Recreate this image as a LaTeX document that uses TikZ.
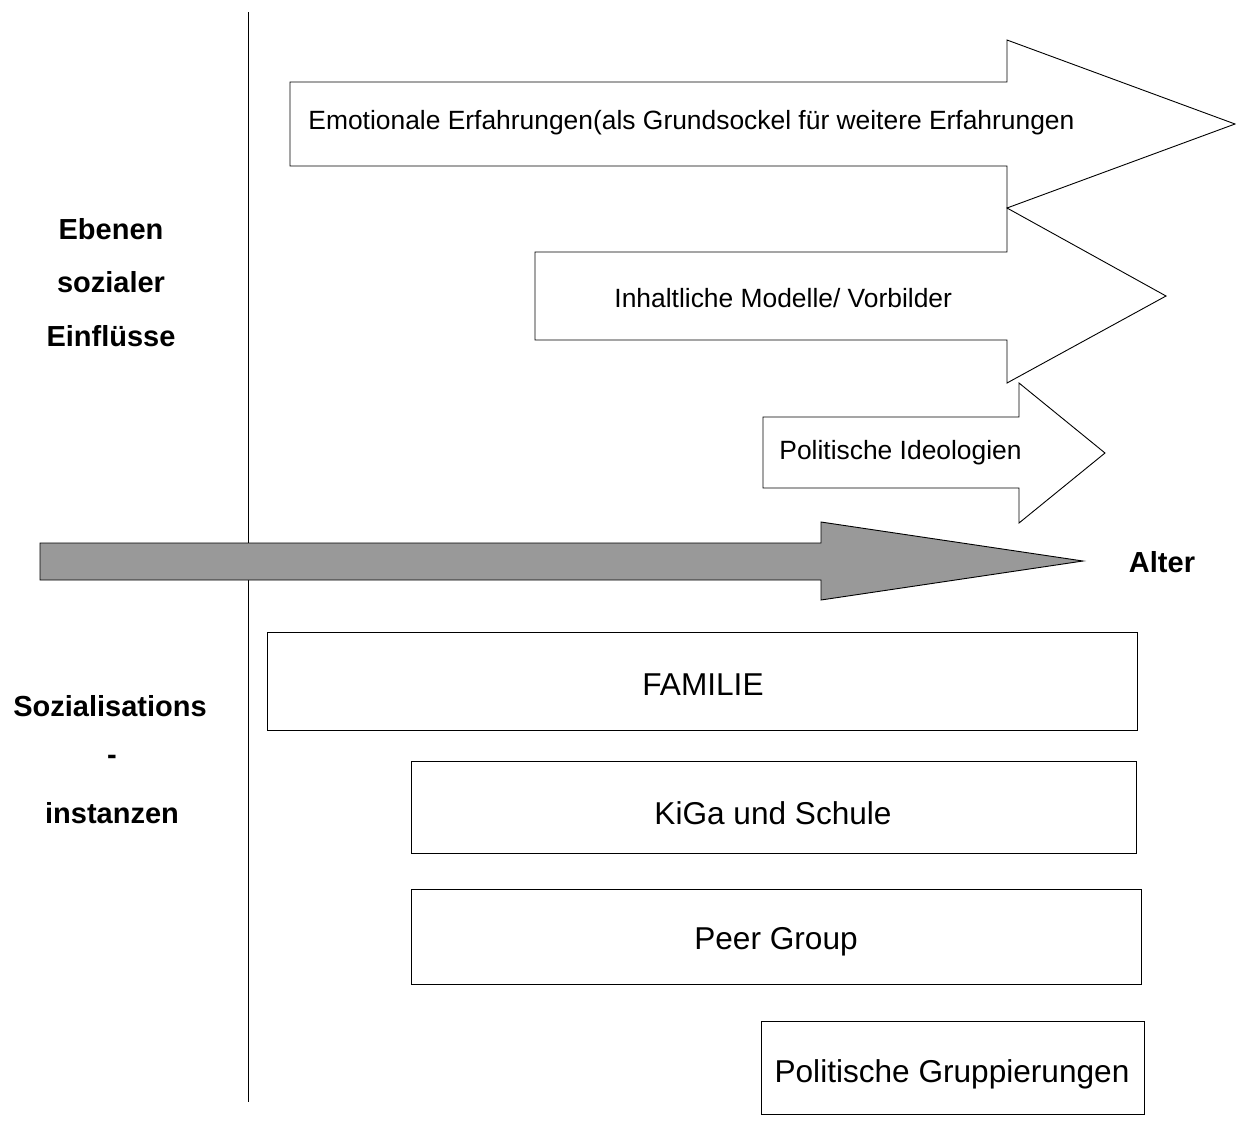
\documentclass[tikz,border=0pt]{standalone}
\usepackage{fontspec}
\setmainfont{Liberation Sans}
\begin{document}
\begin{tikzpicture}[x=1pt,y=-1pt,line width=0.9pt,
  arrowshape/.style={draw=black,fill=white,line join=miter},
  agearrow/.style={draw=black,fill=black!40,line join=miter},
  arrowtext/.style={inner sep=0pt,anchor=west,font=\fontsize{26.4}{30}\selectfont},
  boxnode/.style={draw=black,fill=white,inner sep=0pt},
  boxtext/.style={inner sep=0pt,font=\fontsize{31.6}{36}\selectfont},
  sidelabel/.style={inner sep=0pt,font=\bfseries\fontsize{29}{34}\selectfont}]
\useasboundingbox (0,0) rectangle (1236,1130);
% vertical axis
\coordinate (vtop) at (248,12);
\coordinate (vbot) at (248,1102);
\draw[line width=0.8pt] (vtop) -- (vbot);
% level arrows
\draw[arrowshape] (290,82) -- (1007,82) -- (1007,40) -- (1235,124) -- (1007,208) -- (1007,166) -- (290,166) -- cycle;
\draw[arrowshape] (535,252) -- (1007,252) -- (1007,208) -- (1166,296) -- (1007,383) -- (1007,340) -- (535,340) -- cycle;
\draw[arrowshape] (763,417) -- (1019,417) -- (1019,383) -- (1105,453) -- (1019,523) -- (1019,488) -- (763,488) -- cycle;
\node[arrowtext] (t1) at (308,123) {Emotionale Erfahrungen(als Grundsockel für weitere Erfahrungen};
\node[arrowtext] (t2) at (614,298) {Inhaltliche Modelle/ Vorbilder};
\node[arrowtext] (t3) at (779,453) {Politische Ideologien};
% age arrow
\draw[agearrow] (40,543) -- (821,543) -- (821,522) -- (1083,561) -- (821,600) -- (821,580) -- (40,580) -- cycle;
\node[sidelabel] (alter) at (1162,562) {Alter};
% side labels
\node[sidelabel] (l1) at (111,229) {Ebenen};
\node[sidelabel] (l2) at (111,282) {sozialer};
\node[sidelabel] (l3) at (111,336) {Einflüsse};
\node[sidelabel] (l4) at (110,706) {Sozialisations};
\node[sidelabel] (l5) at (112,760) {-};
\node[sidelabel] (l6) at (112,813) {instanzen};
% boxes
\node[boxnode,minimum width=870pt,minimum height=98pt] (fam) at (702,681) {};
\node[boxtext] (famT) at (703,685) {FAMILIE};
\node[boxnode,minimum width=725pt,minimum height=92pt] (kiga) at (773.5,807) {};
\node[boxtext] (kigaT) at (773,813) {KiGa und Schule};
\node[boxnode,minimum width=730pt,minimum height=95pt] (peer) at (776,936.5) {};
\node[boxtext] (peerT) at (776,942) {Peer Group};
\node[boxnode,minimum width=383pt,minimum height=93pt] (pol) at (952.5,1067.5) {};
\node[boxtext] (polT) at (952,1074) {Politische Gruppierungen};
\end{tikzpicture}
\end{document}
